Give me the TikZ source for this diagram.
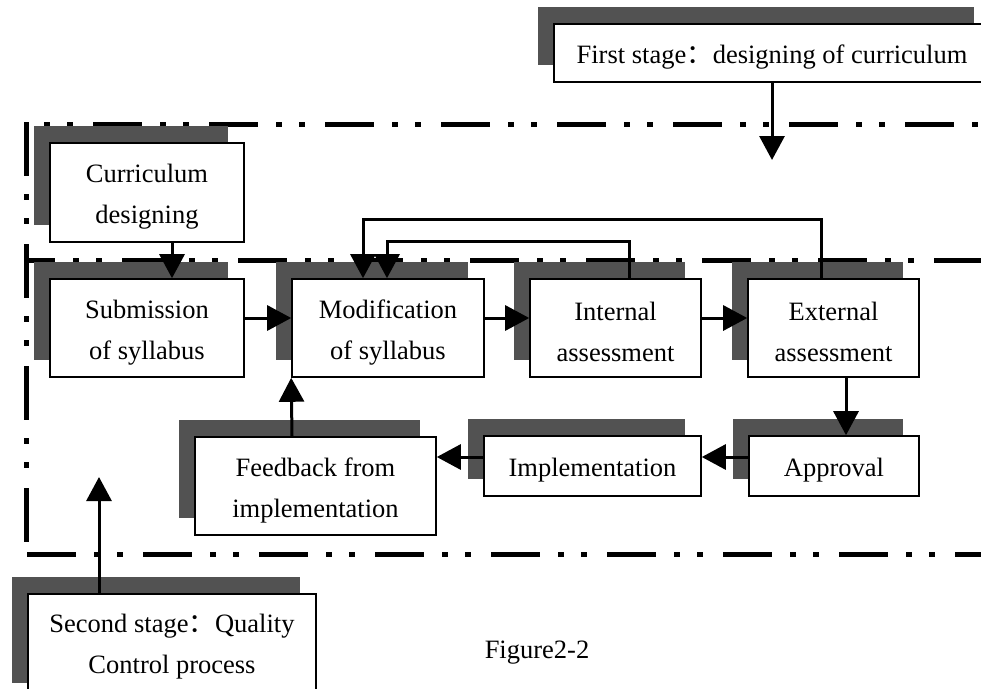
\documentclass[tikz,border=0pt]{standalone}
\usepackage{fontspec}
\setmainfont{Liberation Serif}
\newfontfamily\cjk{Noto Sans CJK SC}
\usepackage{tikz}
\usetikzlibrary{arrows.meta,shadows}
\newcommand{\stagestrut}{\rule{0pt}{27pt}}

\begin{document}
\begin{tikzpicture}[x=1pt,y=-1pt,
    stagebox/.style={draw, fill=white, line width=1.6pt, inner sep=0pt,
      align=center, font=\fontsize{26.5}{41}\selectfont,
      general shadow={fill=black!68, shadow xshift=-16pt, shadow yshift=17pt}},
    frameline/.style={line width=5pt,
      dash pattern=on 49pt off 18pt on 6pt off 17pt on 6pt off 20pt},
    flow/.style={line width=3pt, -{Triangle[length=24pt,width=25pt]}}]

    \useasboundingbox (0,0) rectangle (981,688);

    \draw[frameline, dash phase=49pt] (26,124) -- (990,124);
    \draw[frameline, dash phase=20pt] (26,260) -- (990,260);
    \draw[frameline] (27,554) -- (990,554);
    \draw[line width=5pt, dash pattern=on 54pt off 18pt on 6pt off 18pt on 6pt off 20pt]
    (26,122) -- (26,542);

    \node[stagebox, minimum width=436pt, minimum height=58pt] (first) at (772,53)
    {\stagestrut First stage{\cjk ：}designing of curriculum};
    \node[stagebox, minimum width=194pt, minimum height=99pt] (design) at (147,192.5)
    {\stagestrut Curriculum\\designing};

    \node[stagebox, minimum width=194pt, minimum height=98pt] (submit) at (147,328)
    {\stagestrut Submission\\of syllabus};
    \node[stagebox, minimum width=192pt, minimum height=98pt] (modify) at (388,328)
    {\stagestrut Modification\\of syllabus};
    \node[stagebox, minimum width=171pt, minimum height=98pt] (internal) at (615.5,328)
    {\stagestrut Internal\\assessment};
    \node[stagebox, minimum width=171pt, minimum height=98pt] (external) at (833.5,328)
    {\stagestrut External\\assessment};

    \node[stagebox, minimum width=170pt, minimum height=60pt] (approve) at (834,466)
    {\stagestrut Approval};
    \node[stagebox, minimum width=217pt, minimum height=60pt] (implement) at (592.5,466)
    {\stagestrut Implementation};
    \node[stagebox, minimum width=241pt, minimum height=98pt] (feedback) at (315.5,486)
    {\stagestrut Feedback from\\implementation};

    \node[stagebox, minimum width=288pt, minimum height=106pt] (second) at (172,647)
    {Second stage{\cjk ：}Quality\\Control process};
    \node[font=\fontsize{26.5}{41}\selectfont, anchor=base] (caption) at (537,658)
    {Figure2-2};

    \coordinate (firstend) at (772,160);
    \coordinate (secondend) at (99,477);

    \draw[flow] (first.south) -- (firstend);
    \draw[flow] ([xshift=25pt]design.south) -- ([xshift=25pt]submit.north);
    \draw[flow] ([yshift=10pt]submit.east) -- ([yshift=10pt]modify.west);
    \draw[flow] ([yshift=10pt]modify.east) -- ([yshift=10pt]internal.west);
    \draw[flow] ([yshift=10pt]internal.east) -- ([yshift=10pt]external.west);
    \draw[flow] ([xshift=13.5pt]internal.north) -- ++(0,-37) -| ([xshift=-1pt]modify.north);
    \draw[flow] ([xshift=-12.5pt]external.north) -- ++(0,-59) -| ([xshift=-25pt]modify.north);
    \draw[flow] ([xshift=12.5pt]external.south) -- ([xshift=12pt]approve.north);
    \draw[flow] ([yshift=9pt]approve.west) -- ([yshift=9pt]implement.east);
    \draw[flow] ([yshift=9pt]implement.west) -- ([yshift=29pt]feedback.east);
    \draw[flow] ([xshift=-23.5pt]feedback.north) -- (modify.south west);
    \draw[flow] ([xshift=-73pt]second.north) -- (secondend);
\end{tikzpicture}
\end{document}
